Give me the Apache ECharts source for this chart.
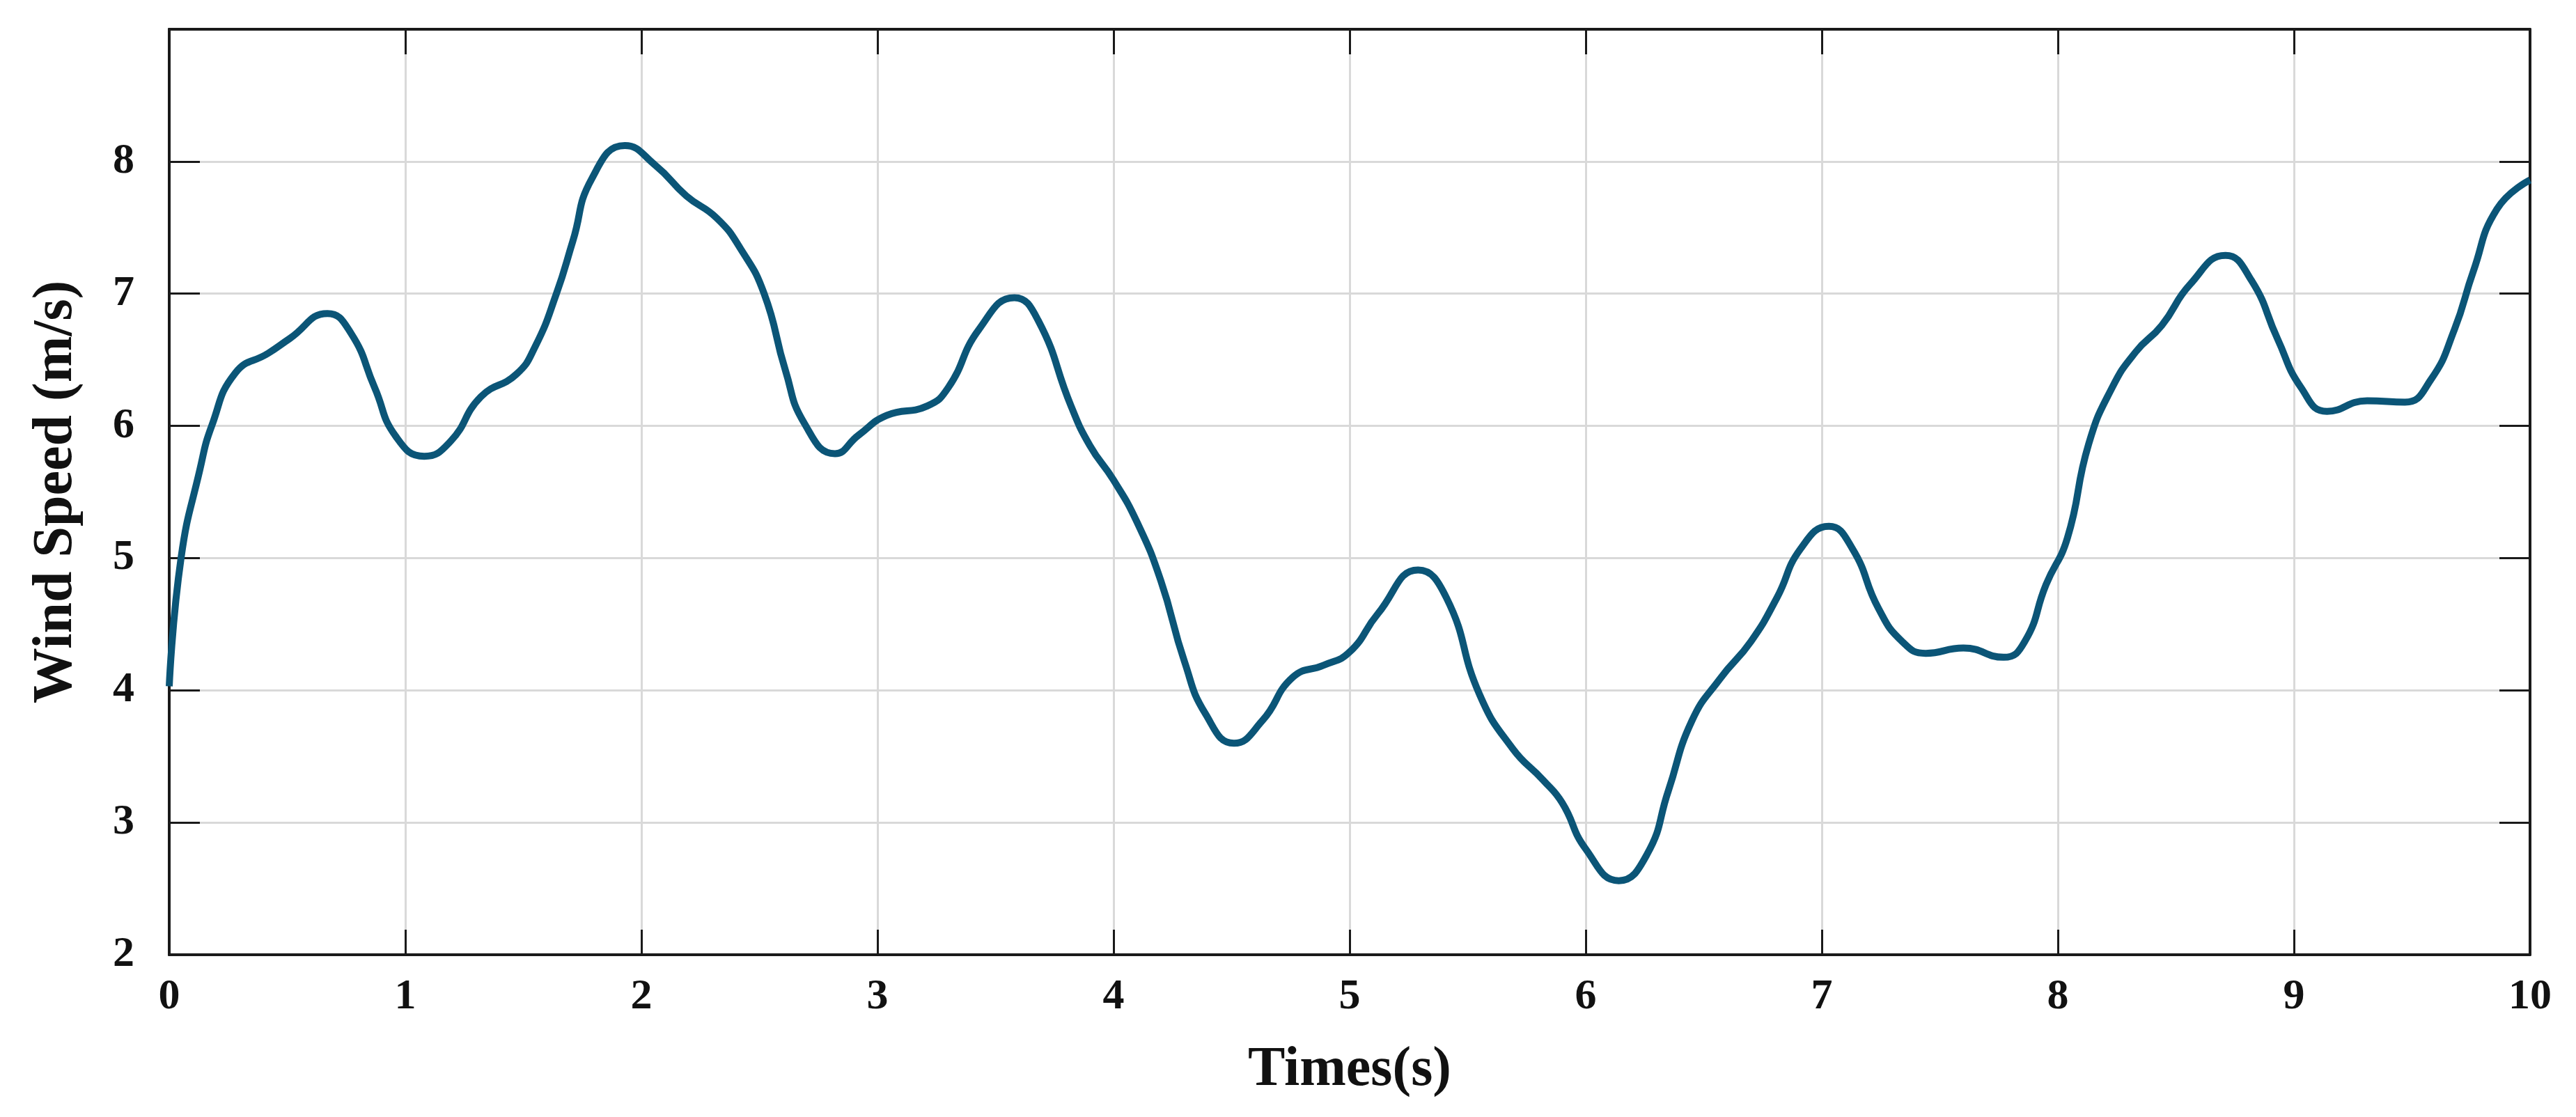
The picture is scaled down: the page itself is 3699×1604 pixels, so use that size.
<!DOCTYPE html>
<html>
<head>
<meta charset="utf-8">
<title>Wind Speed</title>
<script src="https://cdn.jsdelivr.net/npm/echarts@6/dist/echarts.min.js"></script>
<style>
  html, body { margin: 0; padding: 0; background: #fff; }
  #main { width: 3699px; height: 1604px; }
</style>
</head>
<body>
<div id="main"></div>
<script>
// time (s) and wind speed (m/s)
var times = [0, 0.05, 0.13, 0.18, 0.28, 0.42, 0.51, 0.67, 0.77, 0.87, 0.96, 1.08, 1.19, 1.32, 1.47, 1.55, 1.64, 1.71, 1.79, 1.93,
  2.06, 2.19, 2.32, 2.42, 2.52, 2.61, 2.69, 2.82, 2.92, 3.04, 3.21, 3.3, 3.43, 3.58, 3.68, 3.82, 3.9,
  4.0, 4.1, 4.2, 4.3, 4.39, 4.51, 4.63, 4.76, 4.89, 5.0, 5.12, 5.29, 5.41, 5.55, 5.69, 5.82, 5.9,
  6.0, 6.14, 6.26, 6.35, 6.45, 6.57, 6.7, 6.81, 6.91, 7.03, 7.13, 7.24, 7.34, 7.44, 7.6, 7.77, 7.86, 7.95,
  8.04, 8.13, 8.23, 8.33, 8.44, 8.56, 8.71, 8.82, 8.93, 9.03, 9.14, 9.31, 9.47, 9.58, 9.68, 9.76, 9.86, 10];
var speeds = [4.03, 5.0, 5.67, 6.0, 6.4, 6.55, 6.66, 6.85, 6.7, 6.29, 5.92, 5.77, 5.88, 6.22, 6.39, 6.6, 7.0, 7.4, 7.87, 8.12,
  7.97, 7.74, 7.57, 7.34, 7.0, 6.42, 6.02, 5.79, 5.93, 6.08, 6.15, 6.29, 6.73, 6.97, 6.8, 6.15, 5.85,
  5.59, 5.27, 4.83, 4.22, 3.82, 3.6, 3.77, 4.1, 4.19, 4.29, 4.58, 4.91, 4.7, 3.97, 3.56, 3.32, 3.15,
  2.8, 2.56, 2.76, 3.24, 3.77, 4.09, 4.37, 4.7, 5.07, 5.24, 5.07, 4.62, 4.37, 4.28, 4.32, 4.25, 4.37, 4.8,
  5.15, 5.86, 6.29, 6.56, 6.76, 7.07, 7.29, 7.1, 6.66, 6.29, 6.11, 6.19, 6.18, 6.35, 6.73, 7.17, 7.64, 7.86];
var xTicks = [0, 1, 2, 3, 4, 5, 6, 7, 8, 9, 10];
var yTicks = [2, 3, 4, 5, 6, 7, 8];
var yMax = 9;

var font = '"Liberation Serif", "DejaVu Serif", serif';

var chart = echarts.init(document.getElementById('main'));

var points = times.map(function (t, i) { return [t, speeds[i]]; });

function axisLine() {
  return { show: true, onZero: false, lineStyle: { color: '#1a1a1a', width: 4 } };
}
function axisTick(len) {
  return { show: true, inside: true, length: len, lineStyle: { color: '#1a1a1a', width: 3 } };
}
// axis that only draws the light grid, kept underneath the tick axes
function gridAxis(pos, min, max) {
  return {
    type: 'value', min: min, max: max, interval: 1, position: pos, z: 0,
    axisLine: { show: false }, axisTick: { show: false }, axisLabel: { show: false },
    splitLine: { show: true, lineStyle: { color: '#d9d9d9', width: 3 } }
  };
}
// box edge axis: line + inward ticks, no labels
function edgeAxis(pos, min, max, len) {
  return {
    type: 'value', min: min, max: max, interval: 1, position: pos, z: 1,
    axisLine: axisLine(), axisTick: axisTick(len),
    axisLabel: { show: false }, splitLine: { show: false }
  };
}

chart.setOption({
  animation: false,
  backgroundColor: '#fff',
  grid: { left: 243, right: 66, top: 42, bottom: 233, containLabel: false },
  xAxis: [
    {
      type: 'value',
      min: xTicks[0],
      max: xTicks[xTicks.length - 1],
      interval: 1,
      position: 'bottom',
      z: 1,
      name: 'Times(s)',
      nameLocation: 'middle',
      nameGap: 126,
      nameTextStyle: { fontFamily: font, fontWeight: 'bold', fontSize: 80, color: '#111' },
      axisLine: axisLine(),
      axisTick: axisTick(36),
      axisLabel: { fontFamily: font, fontWeight: 'bold', fontSize: 62, color: '#111', margin: 30 },
      splitLine: { show: false }
    },
    edgeAxis('top', xTicks[0], xTicks[xTicks.length - 1], 36),
    gridAxis('bottom', xTicks[0], xTicks[xTicks.length - 1])
  ],
  yAxis: [
    {
      type: 'value',
      min: yTicks[0],
      max: yMax,
      interval: 1,
      position: 'left',
      z: 1,
      name: 'Wind Speed (m/s)',
      nameLocation: 'middle',
      nameGap: 122,
      nameTextStyle: { fontFamily: font, fontWeight: 'bold', fontSize: 80, color: '#111' },
      axisLine: axisLine(),
      axisTick: { show: false },
      axisLabel: {
        fontFamily: font, fontWeight: 'bold', fontSize: 62, color: '#111', margin: 50,
        formatter: function (v) { return yTicks.indexOf(v) >= 0 ? String(v) : ''; }
      },
      splitLine: { show: false }
    },
    edgeAxis('right', yTicks[0], yMax, 44),
    gridAxis('left', yTicks[0], yMax),
    edgeAxis('left', yTicks[0], yMax, 44)
  ],
  series: [
    {
      type: 'line',
      data: points,
      smooth: 0.5,
      showSymbol: false,
      z: 2,
      lineStyle: { color: '#0b5577', width: 10 }
    }
  ]
});
</script>
</body>
</html>
